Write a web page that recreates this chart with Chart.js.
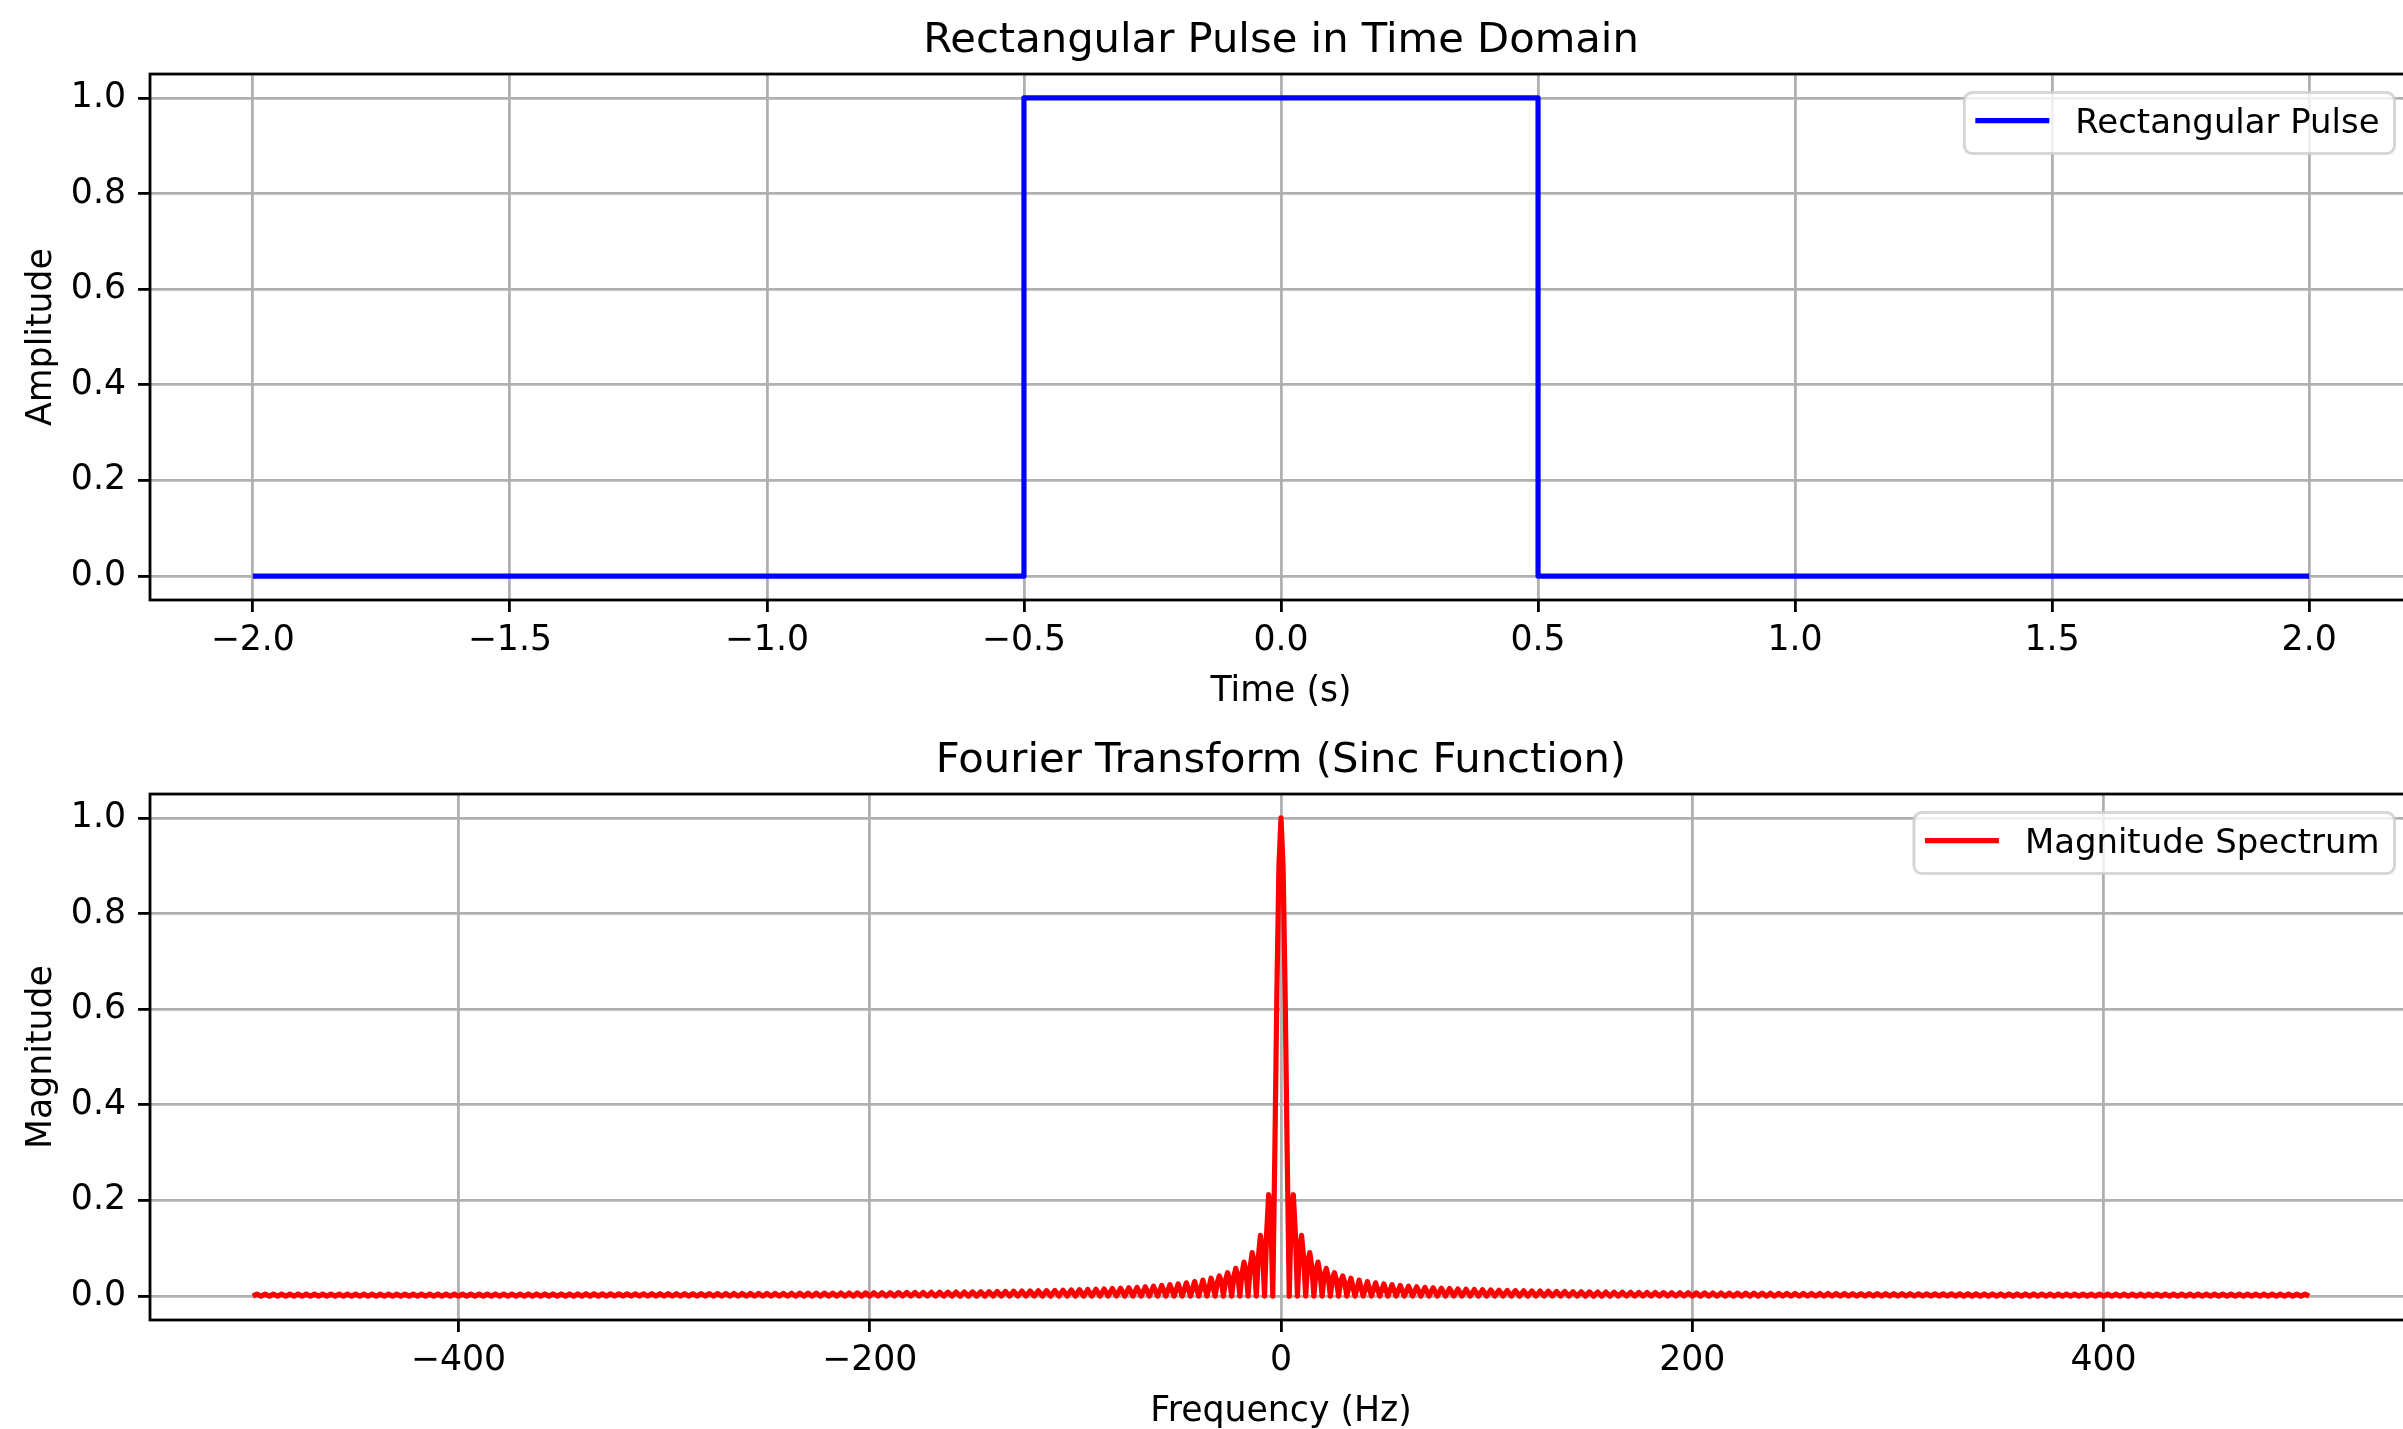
<!doctype html>
<html lang="en">
<head>
<meta charset="utf-8">
<title>Rectangular Pulse and its Fourier Transform</title>
<script src="https://cdn.jsdelivr.net/npm/chart.js@4.4.1/dist/chart.umd.min.js"></script>
<style>
  html, body { margin: 0; padding: 0; background: #fff; overflow: hidden; width: 2403px; height: 1429px; }
  .panel { position: absolute; left: 0; }
</style>
</head>
<body>
<div class="panel" style="top:0px"><canvas id="pulseChart" width="2420" height="720"></canvas></div>
<div class="panel" style="top:720px"><canvas id="specChart" width="2420" height="720"></canvas></div>
<script>
// --- time domain: pulse with edges at -0.5 s and 0.5 s
var pulseTime = [-2, -0.5, -0.5, 0.5, 0.5, 2];
var pulseAmp  = [0, 0, 1, 1, 0, 0];

// --- spectrum, 1 Hz bins from 0 to 32 Hz (negative side is the mirror image)
var centerMag = [1.000, 0.900, 0.637, 0.300, 0.000, 0.180, 0.212, 0.129, 0.000,
                 0.100, 0.127, 0.082, 0.000, 0.069, 0.091, 0.060, 0.000,
                 0.053, 0.071, 0.047, 0.000, 0.043, 0.058, 0.039, 0.000,
                 0.036, 0.049, 0.033, 0.000, 0.031, 0.042, 0.029, 0.000];

// side lobe heights at 34, 38, 42 ... 498 Hz (zeros between them)
var tailPeaks = [
  .0375, .0336, .0304, .0278, .0256, .0237, .0221, .0207, .0194, .0183,
  .0174, .0165, .0157, .0150, .0143, .0137, .0132, .0127, .0122, .0118,
  .0114, .0110, .0107, .0104, .0101, .0098, .0095, .0093, .0090, .0088,
  .0086, .0084, .0082, .0080, .0079, .0077, .0075, .0074, .0073, .0071,
  .0070, .0069, .0067, .0066, .0065, .0064, .0063, .0062, .0061, .0061,
  .0060, .0059, .0058, .0057, .0057, .0056, .0055, .0055, .0054, .0053,
  .0053, .0052, .0052, .0051, .0051, .0050, .0050, .0049, .0049, .0048,
  .0048, .0047, .0047, .0047, .0046, .0046, .0046, .0045, .0045, .0045,
  .0044, .0044, .0044, .0044, .0043, .0043, .0043, .0043, .0042, .0042,
  .0042, .0042, .0042, .0041, .0041, .0041, .0041, .0041, .0041, .0041,
  .0041, .0040, .0040, .0040, .0040, .0040, .0040, .0040, .0040, .0040,
  .0040, .0040, .0040, .0040, .0040, .0040, .0040
];

// --- ticks
var ampTicks = [0, 0.2, 0.4, 0.6, 0.8, 1.0];
var ampTickLabels = ['0.0', '0.2', '0.4', '0.6', '0.8', '1.0'];
var timeTicks = [-2, -1.5, -1, -0.5, 0, 0.5, 1, 1.5, 2];
var timeTickLabels = ['\u22122.0', '\u22121.5', '\u22121.0', '\u22120.5', '0.0', '0.5', '1.0', '1.5', '2.0'];
var freqTicks = [-400, -200, 0, 200, 400];
var freqTickLabels = ['\u2212400', '\u2212200', '0', '200', '400'];

// build point lists
var pulsePoints = [];
for (var i = 0; i < pulseTime.length; i++) {
  pulsePoints.push({ x: pulseTime[i], y: pulseAmp[i] });
}

var posF = [], posM = [];
for (var i = 0; i < centerMag.length; i++) { posF.push(i); posM.push(centerMag[i]); }
for (var j = 0; j < tailPeaks.length; j++) {
  posF.push(34 + 4 * j); posM.push(tailPeaks[j]);
  posF.push(36 + 4 * j); posM.push(0);
}
var specPoints = [];
for (var k = posF.length - 1; k >= 1; k--) specPoints.push({ x: -posF[k], y: posM[k] });
for (var k = 0; k < posF.length; k++) specPoints.push({ x: posF[k], y: posM[k] });

Chart.defaults.font.family = '"DejaVu Sans", sans-serif';
Chart.defaults.color = '#000';

var FS = 34.7;
var LEG_FS = 33.9;

// box around the axes + matplotlib style legend in the upper right
var framePlugin = {
  id: 'frame',
  afterDraw: function (chart, args, opts) {
    var ctx = chart.ctx, a = chart.chartArea;
    ctx.save();
    ctx.strokeStyle = '#000';
    ctx.lineWidth = 2.8;
    ctx.strokeRect(a.left, a.top, a.right - a.left, a.bottom - a.top);

    ctx.font = LEG_FS + 'px "DejaVu Sans"';
    var tw = ctx.measureText(opts.label).width;
    var w = tw + 11 + 74 + 26 + 15, h = 61;
    var x = a.right - 17.5 - w, y = a.top + 18.5, r = 8;
    ctx.beginPath();
    ctx.moveTo(x + r, y);
    ctx.lineTo(x + w - r, y);
    ctx.arcTo(x + w, y, x + w, y + r, r);
    ctx.lineTo(x + w, y + h - r);
    ctx.arcTo(x + w, y + h, x + w - r, y + h, r);
    ctx.lineTo(x + r, y + h);
    ctx.arcTo(x, y + h, x, y + h - r, r);
    ctx.lineTo(x, y + r);
    ctx.arcTo(x, y, x + r, y, r);
    ctx.closePath();
    ctx.fillStyle = 'rgba(255,255,255,0.8)';
    ctx.fill();
    ctx.strokeStyle = 'rgba(204,204,204,0.8)';
    ctx.lineWidth = 3;
    ctx.stroke();

    ctx.strokeStyle = opts.color;
    ctx.lineWidth = 5.2;
    ctx.beginPath();
    ctx.moveTo(x + 11, y + 28);
    ctx.lineTo(x + 85, y + 28);
    ctx.stroke();

    ctx.fillStyle = '#000';
    ctx.textBaseline = 'alphabetic';
    ctx.textAlign = 'left';
    ctx.fillText(opts.label, x + 111, y + 40.5);
    ctx.restore();
  }
};

function makeChart(id, points, color, label, title, xTitle, yTitle, xMin, xMax, xTicks, xLabels) {
  return new Chart(document.getElementById(id), {
    type: 'line',
    data: {
      datasets: [{
        label: label,
        data: points,
        borderColor: color,
        borderWidth: 5.2,
        pointRadius: 0,
        tension: 0,
        fill: false,
        borderJoinStyle: 'round'
      }]
    },
    plugins: [framePlugin],
    options: {
      responsive: false,
      animation: false,
      layout: { padding: { right: 8 } },
      plugins: {
        legend: { display: false },
        tooltip: { enabled: false },
        title: {
          display: true,
          text: title,
          fullSize: false,
          font: { size: 41.7, weight: 'normal' },
          padding: { top: 16.5, bottom: 7.5 }
        },
        frame: { label: label, color: color }
      },
      scales: {
        x: {
          type: 'linear',
          min: xMin,
          max: xMax,
          afterFit: function (s) { s.height = 120; },
          afterBuildTicks: function (s) { s.ticks = xTicks.map(function (v) { return { value: v }; }); },
          grid: { color: '#b0b0b0', lineWidth: 2.8, tickColor: '#000', tickLength: 12, tickWidth: 2.8 },
          border: { display: false },
          ticks: {
            padding: 8, maxRotation: 0, autoSkip: false, font: { size: FS },
            callback: function (v, i) { return xLabels[i]; }
          },
          title: { display: true, text: xTitle, font: { size: FS }, padding: { top: 0, bottom: 7.5 } }
        },
        y: {
          min: -0.05,
          max: 1.05,
          afterFit: function (s) { s.width = 150; },
          afterBuildTicks: function (s) { s.ticks = ampTicks.map(function (v) { return { value: v }; }); },
          grid: { color: '#b0b0b0', lineWidth: 2.8, tickColor: '#000', tickLength: 12, tickWidth: 2.8 },
          border: { display: false },
          ticks: {
            padding: 12, font: { size: FS },
            callback: function (v, i) { return ampTickLabels[i]; }
          },
          title: { display: true, text: yTitle, font: { size: FS }, padding: { top: 21.5, bottom: 0 } }
        }
      }
    }
  });
}

makeChart('pulseChart', pulsePoints, '#0000ff', 'Rectangular Pulse',
  'Rectangular Pulse in Time Domain', 'Time (s)', 'Amplitude', -2.2, 2.2, timeTicks, timeTickLabels);

makeChart('specChart', specPoints, '#ff0000', 'Magnitude Spectrum',
  'Fourier Transform (Sinc Function)', 'Frequency (Hz)', 'Magnitude', -550, 550, freqTicks, freqTickLabels);
</script>
</body>
</html>
